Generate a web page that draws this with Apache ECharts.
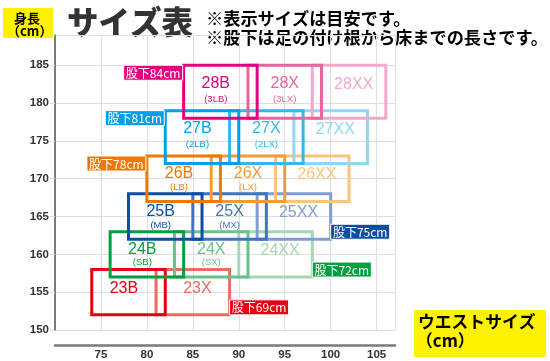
<!DOCTYPE html>
<html><head><meta charset="utf-8">
<script src="https://cdn.jsdelivr.net/npm/echarts@6/dist/echarts.min.js"></script>
<style>html,body{margin:0;padding:0;background:#fff}#c{width:550px;height:361px}</style>
</head><body><div id="c"></div>
<script>
// ---- data ----
const sizeGroups = ['23','24','25','26','27','28'];
const inseamCm = [69,72,75,78,81,84];
const heightMin = [152,157,162,167,172,178];
const heightMax = [158,163,168,173,179,185];
const waistBMin = [74,76,78,80,82,84];
const waistBMax = [82,84,86,88,90,92];
const waistXMin = [81,83,85,87,89,91];
const waistXMax = [89,91,93,95,97,99];
const waistXXMin = [null,90,92,94,96,98];
const waistXXMax = [null,98,100,102,104,106];
const subB = ['', '(SB)','(MB)','(LB)','(2LB)','(3LB)'];
const subX = ['', '(SX)','(MX)','(LX)','(2LX)','(3LX)'];
const variantSuffix = ['B','X','XX'];
const xTickLabels = ['75','80','85','90','95','100','105'];
const yTickLabels = ['150','155','160','165','170','175','180','185'];

// ---- style ----
const colB  = ['#e60012','#00a040','#0b4ea2','#ee7800','#00a0e9','#e4007f'];
const colX  = ['#ec6d5e','#6cc08b','#3f74c2','#f39b3a','#33b6ee','#e5669f'];
const colXX = [null,'#a4d8b3','#809dd3','#fbc47c','#92d5f5','#f0a9cc'];
const inseamSide = ['right','right','right','left','left','left'];
const latin = '"Liberation Sans", Arial, sans-serif';
const jp = '"Noto Sans CJK JP", sans-serif';

const boxes = [];
sizeGroups.forEach((g, i) => {
  const hasXX = waistXXMin[i] != null;
  if (hasXX) boxes.push({ value: [waistXXMin[i], waistXXMax[i], heightMin[i], heightMax[i], (waistXMax[i] + waistXXMax[i]) / 2], g: i, v: 2 });
  const xEnd = hasXX ? waistXXMin[i] : waistXMax[i];
  boxes.push({ value: [waistXMin[i], waistXMax[i], heightMin[i], heightMax[i], (waistBMax[i] + xEnd) / 2], g: i, v: 1 });
  boxes.push({ value: [waistBMin[i], waistBMax[i], heightMin[i], heightMax[i], (waistBMin[i] + waistXMin[i]) / 2], g: i, v: 0 });
});

const inseamData = sizeGroups.map((g, i) => {
  if (inseamSide[i] === 'left') return { value: [waistBMin[i], heightMax[i]], g: i };
  const r = waistXXMax[i] != null ? waistXXMax[i] : waistXMax[i];
  return { value: [r, heightMin[i]], g: i };
});

const chart = echarts.init(document.getElementById('c'));
chart.setOption({
  animation: false,
  backgroundColor: '#fff',
  grid: { left: 55, top: 35, width: 340, height: 295, containLabel: false },
  xAxis: {
    type: 'value', min: 70, max: 107, interval: 5, offset: 15,
    axisLine: { show: true, lineStyle: { color: '#7a7a7a', width: 2.5 } },
    axisTick: { show: false },
    splitLine: { show: true, lineStyle: { color: '#dedede', width: 1 } },
    axisLabel: {
      showMinLabel: false, margin: 4, color: '#333', fontSize: 11.5, fontWeight: 'bold', fontFamily: latin,
      formatter: v => xTickLabels[xTickLabels.indexOf(String(v))] || ''
    }
  },
  yAxis: {
    type: 'value', min: 150, max: 189, interval: 5,
    axisLine: { show: true, lineStyle: { color: '#555', width: 1.5 } },
    axisTick: { show: true, length: 5, lineStyle: { color: '#dedede' } },
    splitLine: { show: true, lineStyle: { color: '#dedede', width: 1 } },
    axisLabel: {
      margin: 6, color: '#333', fontSize: 11.5, fontWeight: 'bold', fontFamily: latin,
      formatter: v => yTickLabels[yTickLabels.indexOf(String(v))] || ''
    }
  },
  graphic: [
    { type: 'rect', left: 3, top: 8, shape: { width: 50, height: 30 }, style: { fill: '#fff200' } },
    { type: 'text', left: 14, top: 12, style: { text: '身長', font: 'bold 13px ' + jp, fill: '#000' } },
    { type: 'text', left: 7, top: 25, style: { text: '（cm）', font: 'bold 13px ' + jp, fill: '#000' } },
    { type: 'text', left: 67, top: 6, style: { text: 'サイズ表', font: '900 31.5px ' + jp, fill: '#333' } },
    { type: 'text', left: 206, top: 10, style: { text: '※表示サイズは目安です。', font: 'bold 17.2px ' + jp, fill: '#000' } },
    { type: 'text', left: 206, top: 29, style: { text: '※股下は足の付け根から床までの長さです。', font: 'bold 17.2px ' + jp, fill: '#000' } },
    { type: 'rect', left: 414, top: 310, shape: { width: 132, height: 47 }, style: { fill: '#fff200' } },
    { type: 'text', left: 418, top: 313, style: { text: 'ウエストサイズ', font: 'bold 16.8px ' + jp, fill: '#000' } },
    { type: 'text', left: 416, top: 332, style: { text: '（cm）', font: 'bold 16.8px ' + jp, fill: '#000' } }
  ],
  series: [
    {
      type: 'custom', z: 3, clip: false,
      data: boxes,
      encode: { x: [0, 1, 4], y: [2, 3] },
      renderItem: (params, api) => {
        const b = boxes[params.dataIndex];
        const i = b.g, v = b.v;
        const tl = api.coord([api.value(0), api.value(3)]);
        const br = api.coord([api.value(1), api.value(2)]);
        const cx = api.coord([api.value(4), api.value(3)])[0];
        const col = v === 0 ? colB[i] : v === 1 ? colX[i] : colXX[i];
        const h = br[1] - tl[1];
        const sub = v === 0 ? subB[i] : v === 1 ? subX[i] : '';
        const children = [
          { type: 'rect', shape: { x: tl[0], y: tl[1], width: br[0] - tl[0], height: h },
            style: { fill: 'none', stroke: col, lineWidth: 3 } },
          { type: 'text', style: { x: cx, y: tl[1] + (sub ? 18 : 19), text: sizeGroups[i] + variantSuffix[v],
            font: '16px ' + latin, fill: col, align: 'center', verticalAlign: 'middle' } }
        ];
        if (sub) children.push({ type: 'text', style: { x: cx, y: tl[1] + 13 + 0.4 * h, text: sub,
            font: '9.5px ' + latin, fill: col, align: 'center', verticalAlign: 'middle' } });
        return { type: 'group', children };
      }
    },
    {
      type: 'custom', z: 4, clip: false,
      data: inseamData,
      renderItem: (params, api) => {
        const d = inseamData[params.dataIndex];
        const i = d.g;
        const p = api.coord([api.value(0), api.value(1)]);
        const w = 59, hh = 15;
        const left = inseamSide[i] === 'left';
        const x = left ? p[0] - w - 1 : p[0];
        const y = left ? p[1] : p[1] - hh;
        return { type: 'group', children: [
          { type: 'rect', shape: { x, y, width: w, height: hh }, style: { fill: colB[i], stroke: '#fff', lineWidth: 1 } },
          { type: 'text', style: { x: x + w / 2, y: y + hh / 2 + 0.5, text: '股下' + inseamCm[i] + 'cm',
            font: '12px ' + jp, fill: '#fff', align: 'center', verticalAlign: 'middle' } }
        ] };
      }
    }
  ]
});
</script></body></html>
